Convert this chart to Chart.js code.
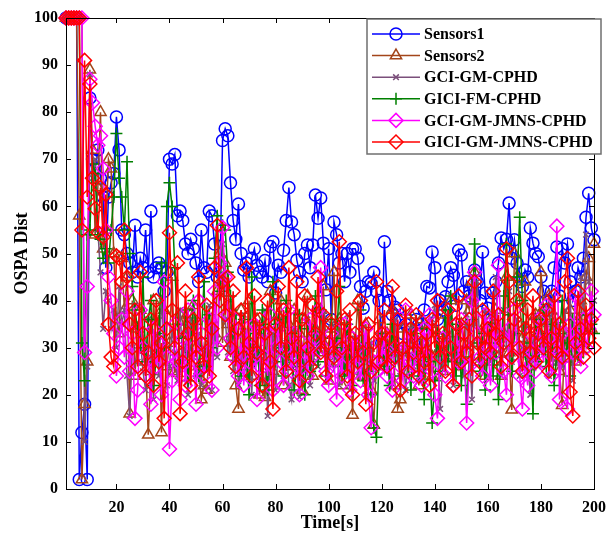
<!DOCTYPE html>
<html>
<head>
<meta charset="utf-8">
<script src="https://cdn.jsdelivr.net/npm/chart.js@4.4.1/dist/chart.umd.min.js"></script>
<style>
  html, body { margin: 0; padding: 0; background: #fff; }
  canvas { display: block; }
</style>
</head>
<body>
<canvas id="ospaChart" width="615" height="538"></canvas>
<script>
// Datos de la figura (leidos a ojo)
const time = Array.from({ length: 200 }, (_, i) => i + 1);
const xTicks = [20, 40, 60, 80, 100, 120, 140, 160, 180, 200];
const yTicks = [0, 10, 20, 30, 40, 50, 60, 70, 80, 90, 100];

const sensors1 = [
  100,100,100,100,100,2,12,18,2,83,70,68,72,66,62,47,62,65,67,79,
  72,55,54,50,48,46,56,45,49,47,55,46,59,45,47,48,47,42,46,70,
  69,71,58,59,57,52,50,53,51,48,44,55,47,46,59,58,52,45,46,74,
  76.5,75,65,57,53,60.5,50,46.5,48,45,49,51,47.5,46,45,48.5,44,51.5,52.5,41.6,
  47.5,46,50.7,57,64,56.7,54,48.6,46,44,50,51.8,47,51.8,62.4,57.5,61.8,52.2,42.3,51,
  36,56.7,54,48,50,44,50,46,51,51,49,43,38.4,42,44,43.7,46,42,40,31,
  52.5,42,40,37,38.6,38,36,33,35,30,34,31,36,35,33,38,43,42.7,50.3,47,
  36,40,38,40.8,44,47,45.4,39,50.7,49.7,42,44,41,40,46.5,44,40,50.3,41.6,38.4,
  36,41.6,44,48,53.3,51,53,60.7,49,52.9,48,44,43,46.5,45,55.4,52.2,50,49.3,45,
  42,40,38,42,47,51.4,41,51,48,52,44,40,42,47,45,49,57.7,62.8,55.4,52.9
];
const sensors2 = [
  100,100,100,100,100,58,2,18,27,89,72,54,64,80,51,55,70,68,50,36,
  33,49,38,45,16,40,24,34,38,30,27,11.5,25,40,29,37,12,38,26,31,
  45,25,24.6,37,35.5,33,28,37,39,30,26,19,22,21,29,36,33,42,50,31,
  48,35,28,33,22,17,38,26,31,40,24,30,36,20,28,19.5,33,42,25,30,
  37,40,22,30,35,26,38,29,33,21,36,41,27,24,34,29,38,43,30,23,
  34,46,27,36,22,30,25,33,15.7,31,40,28,24,35,30,21,13.6,27,36,31,
  26,33,29,38,22,17,19,34,29,25,37,31,28,22,36,26,30,35,24,28,
  33,30,25,37,28,40,33,29,26,35,31,40,38,44,46,31,27,34,24,30,
  36,27,38,30,24,33,45,29,16.8,50,45,40,32,44,26,35,29,37,33,46,
  38,30,41,27,34,36,25,17.8,32,29,38,34,27,36,40,31,45,49,34,52
];
const gciGm = [
  100,100,100,100,100,100,100,10,26,88,66,70,55,46,34,42,40,34,38,30,
  43,35,38,24,15.5,30,39,27,32,25,21,36,28,19,33,24,41,30,22,26,
  34,29,23,38,27,31,20,36,28,24,33,22,30,26,39,21,34,28,44,52,
  36,29,40,25,33,22,28,37,24,31,20,35,27,30,23,38,15.5,27,33,21,
  29,36,24,31,22,19,34,27,19.5,30,25,36,22,28,33,26,31,37,29,24,
  35,28,33,22,30,26,37,21,28,32,24,29,35,20,27,31,23,26,33,28,
  25,31,22,29,36,27,24,30,21,28,34,26,32,23,29,25,31,27,36,39,
  30,17,26,33,28,41,22,29,35,27,24,37,30,19,35,44,29,26,38,33,
  27,36,45,31,24,38,30,42,27,33,36,24,30,35,28,20,31,37,26,32,
  29,35,24,40,31,27,34,26,38,29,42,23,33,28,45,37,54,44,36,40
];
const giciFm = [
  100,100,100,100,100,100,31,23,54,55,69,67,54,53,49,51,48,55,62,75.5,
  66,62,55,69.5,50,43,38,34,30,45,27,36,40,22,28,33,48,30,60,65,
  60,47,35,26,32,38,23,29,40,35,24,32,44,26,37,30,49,58,42,56,
  55,46,41,33,37,28,24,36,30,20,45,27,33,22,38,29,21,35,44,27,
  36,30,24,40,28,33,21,26,37,29,20,34,25,30,41,27,38,32,24,29,
  36,26,32,43,30,24,35,28,22,31,27,38,23,30,25,20,13,11,28,33,
  26,30,22,35,27,31,24,29,37,26,21,33,28,24,30,19,34,27,14,23,
  33,25,30,38,27,41,29,24,35,22,30,18,28,36,52,31,25,33,21,29,
  35,24,31,19,28,41,52,37,25,33,45,57.7,40,29,24,31,16,36,27,33,
  38,26,30,35,22,29,33,40,27,31,24,36,30,28,34,29,37,31,35,33
];
const gciJmns = [
  100,100,100,100,100,100,100,29,43,87,82,77,73,75,68,55,45,40,33,24,
  30,36,28,42,25,33,15,21,38,30,24,29,18,34,26,31,20,44,28,8.5,
  23,35,27,19,32,22,38,25,30,18,40,33,24,29,36,21,42,30,48,55.5,
  45,37,32,28,36,24,31,22,34,27,30,35,19,26,33,28,24,37,21,30,
  34,27,22,30,38,25,33,26,20,31,29,24,36,28,32,38,47,30,25,22,
  33,27,19,30,24,35,28,21,32,26,30,23,29,34,20,13,27,25,31,28,
  33,24,29,21,30,36,26,23,38,31,27,24,33,29,22,34,28,37,25,20,
  15,28,32,24,38,30,22,35,27,36,31,14,26,40,46,33,28,24,37,30,
  22,35,29,47.5,32,25,20,34,28,38,30,24,17,27,22,33,29,25,36,31,
  27,39,32,24,30,55.8,19,33,28,17,35,29,41,32,26,36,30,34,42,37
];
const giciJmns = [
  100,100,100,100,100,100,55,91,62,86,66,59.5,54.5,64,53.5,62.5,35,28,26,49.5,
  49,44,55,45,35,30,38,26,46,33,24,29,36,22,40,27,31,15,34,54.4,
  38,30,48,16,27,42,33,22,36,28,45,31,26,39,24,34,47,56,40,44,
  37,45,30,42,26,34,38,28,47,31,24,41,29,36,22,33,40,27,17,35,
  43,30,38,25,47,32,28,44,23,36,41,30,26,39,33,45,29,37,24,31,
  35,28,42,52.5,30,36,24,38,20,33,27,40,29,18,35,25,31,44,27,33,
  38,26,32,43,28,36,21,30,39,25,34,29,37,24,31,27,33,22,36,30,
  40,28,33,25,38,30,22,35,41,27,33,29,36,24,44,31,27,38,30,34,
  29,42,33,37,26,31,51,44,28,36,40,30,25,34,38,29,41,27,33,36,
  30,38,25,32,41,29,35,28,44,49,20.6,15.5,31,42,34,28,39,32,36,30
];

const series = [
  { label: 'Sensors1', data: sensors1, color: '#0000ff', style: 'circle', radius: 6 },
  { label: 'Sensors2', data: sensors2, color: '#a3451a', style: 'triangle', radius: 6.5 },
  { label: 'GCI-GM-CPHD', data: gciGm, color: '#7b4f7b', style: 'crossRot', radius: 4 },
  { label: 'GICI-FM-CPHD', data: giciFm, color: '#008000', style: 'cross', radius: 6 },
  { label: 'GCI-GM-JMNS-CPHD', data: gciJmns, color: '#ff00ff', style: 'rectRot', radius: 7 },
  { label: 'GICI-GM-JMNS-CPHD', data: giciJmns, color: '#ff0000', style: 'rectRot', radius: 7 }
];

const serif = '"Liberation Serif", "Times New Roman", serif';

// marco con marcas hacia dentro, como en MATLAB
const framePlugin = {
  id: 'frame',
  afterDatasetsDraw(chart) {
    const { ctx, chartArea: a, scales } = chart;
    ctx.save();
    ctx.strokeStyle = '#000';
    ctx.lineWidth = 1;
    ctx.strokeRect(a.left + 0.5, a.top + 0.5, a.right - a.left, a.bottom - a.top);
    ctx.beginPath();
    xTicks.forEach(v => {
      const x = Math.round(scales.x.getPixelForValue(v)) + 0.5;
      ctx.moveTo(x, a.bottom); ctx.lineTo(x, a.bottom - 5);
      ctx.moveTo(x, a.top); ctx.lineTo(x, a.top + 5);
    });
    yTicks.forEach(v => {
      const y = Math.round(scales.y.getPixelForValue(v)) + 0.5;
      ctx.moveTo(a.left, y); ctx.lineTo(a.left + 5, y);
      ctx.moveTo(a.right, y); ctx.lineTo(a.right - 5, y);
    });
    ctx.stroke();
    ctx.restore();
  }
};

// leyenda dibujada dentro del area, arriba a la derecha
const legendPlugin = {
  id: 'boxLegend',
  afterDraw(chart) {
    const { ctx } = chart;
    const box = { x: 367, y: 19, w: 234, h: 135 };
    ctx.save();
    ctx.fillStyle = '#fff';
    ctx.fillRect(box.x, box.y, box.w, box.h);
    ctx.strokeStyle = '#6f6f6f';
    ctx.lineWidth = 1.5;
    ctx.strokeRect(box.x, box.y, box.w, box.h);
    ctx.font = 'bold 16px ' + serif;
    ctx.textBaseline = 'middle';
    series.forEach((s, i) => {
      const y = box.y + 15 + i * 21.6;
      ctx.strokeStyle = s.color;
      ctx.lineWidth = 1.5;
      ctx.beginPath();
      ctx.moveTo(box.x + 5, y);
      ctx.lineTo(box.x + 53, y);
      ctx.stroke();
      ctx.fillStyle = 'rgba(0,0,0,0)';
      Chart.helpers.drawPoint(ctx, {
        pointStyle: s.style, radius: s.radius, rotation: 0, borderWidth: 1.5
      }, box.x + 29, y);
      ctx.fillStyle = '#000';
      ctx.fillText(s.label, box.x + 57, y + 1);
    });
    ctx.restore();
  }
};

const ctx = document.getElementById('ospaChart').getContext('2d');
new Chart(ctx, {
  type: 'line',
  data: {
    datasets: series.map((s, i) => ({
      label: s.label,
      data: s.data.map((v, k) => ({ x: time[k], y: v })),
      borderColor: s.color,
      borderWidth: 1.5,
      pointStyle: s.style,
      pointRadius: s.radius,
      pointBorderWidth: 1.5,
      pointBorderColor: s.color,
      pointBackgroundColor: 'rgba(0,0,0,0)',
      fill: false,
      tension: 0,
      clip: false,
      order: series.length - i
    }))
  },
  options: {
    responsive: false,
    animation: false,
    devicePixelRatio: 1,
    layout: { padding: { top: 18, right: 14, left: 0, bottom: 0 } },
    plugins: {
      legend: { display: false },
      tooltip: { enabled: false }
    },
    scales: {
      x: {
        type: 'linear',
        min: 1,
        max: 200,
        grid: { display: false, drawTicks: false },
        border: { display: false },
        afterBuildTicks: s => { s.ticks = xTicks.map(v => ({ value: v })); },
        afterFit: s => { s.height = 49; },
        ticks: {
          color: '#000',
          padding: 9,
          maxRotation: 0,
          font: { family: serif, size: 16, weight: 'bold' }
        },
        title: {
          display: true,
          text: 'Time[s]',
          color: '#000',
          padding: { top: 0, bottom: 4 },
          font: { family: serif, size: 18, weight: 'bold' }
        }
      },
      y: {
        min: 0,
        max: 100,
        grid: { display: false, drawTicks: false },
        border: { display: false },
        afterBuildTicks: s => { s.ticks = yTicks.map(v => ({ value: v })); },
        afterFit: s => { s.width = 66; },
        ticks: {
          color: '#000',
          padding: 8,
          font: { family: serif, size: 16, weight: 'bold' }
        },
        title: {
          display: true,
          text: 'OSPA Dist',
          color: '#000',
          padding: { top: 12, bottom: 0 },
          font: { family: serif, size: 18, weight: 'bold' }
        }
      }
    }
  },
  plugins: [framePlugin, legendPlugin]
});
</script>
</body>
</html>
